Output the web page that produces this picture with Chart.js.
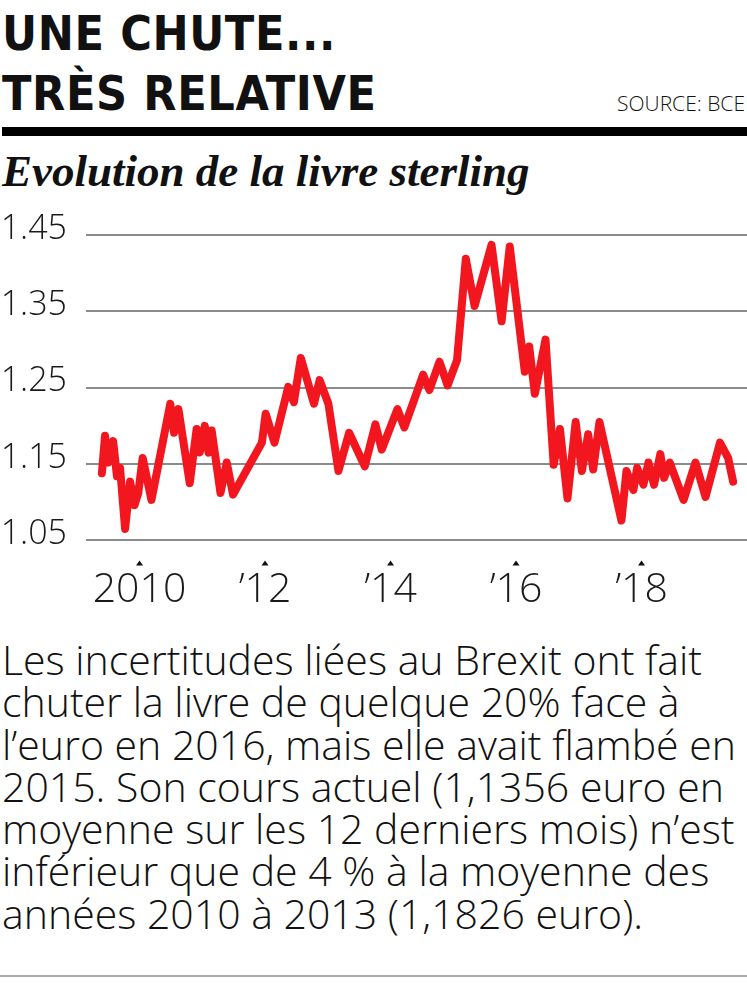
<!DOCTYPE html>
<html lang="fr">
<head>
<meta charset="utf-8">
<title>Une chute... très relative</title>
<script src="https://cdn.jsdelivr.net/npm/chart.js@4.4.1/dist/chart.umd.min.js"></script>
<style>
  body { margin: 0; background: #fff; }
  #page { position: relative; width: 747px; height: 1000px; overflow: hidden; color: #111; }
  #headline { position: absolute; left: 2px; top: 3px; font-family: 'DejaVu Sans', sans-serif; font-stretch: condensed; font-weight: bold; font-size: 48px; letter-spacing: 0.6px; line-height: 60px; white-space: nowrap; }
  #source { position: absolute; right: 2px; top: 89px; font-family: 'Open Sans', sans-serif; font-weight: 300; font-size: 21px; white-space: nowrap; }
  #rule { position: absolute; left: 2px; right: 0; top: 127px; height: 9px; background: #000; }
  #subtitle { position: absolute; left: 2px; top: 145px; font-family: 'Liberation Serif', serif; font-style: italic; font-weight: bold; font-size: 45px; white-space: nowrap; }
  #chartBox { position: absolute; left: 0; top: 210px; width: 747px; height: 407px; }
  #note { position: absolute; left: 2px; top: 638px; margin: 0; font-family: 'Open Sans', sans-serif; font-weight: 300; font-size: 41px; line-height: 42.3px; white-space: nowrap; }
  #rule2 { position: absolute; left: 0; right: 0; top: 975px; height: 2px; background: #aaa; }
</style>
</head>
<body>
<div id="page">
  <div id="headline">UNE CHUTE...<br>TRÈS RELATIVE</div>
  <div id="source">SOURCE: BCE</div>
  <div id="rule"></div>
  <div id="subtitle">Evolution de la livre sterling</div>
  <div id="chartBox"><canvas id="chart"></canvas></div>
  <p id="note">Les incertitudes liées au Brexit ont fait<br>chuter la livre de quelque 20% face à<br>l’euro en 2016, mais elle avait flambé en<br>2015. Son cours actuel (1,1356 euro en<br>moyenne sur les 12 derniers mois) n’est<br>inférieur que de 4 % à la moyenne des<br>années 2010 à 2013 (1,1826 euro).</p>
  <div id="rule2"></div>
</div>

<script>
// dates as decimal years
const dates = [
  2009.40, 2009.45, 2009.50, 2009.58, 2009.64, 2009.69, 2009.77, 2009.85, 2009.92, 2009.98,
  2010.05, 2010.19, 2010.49, 2010.55, 2010.62, 2010.80, 2010.91, 2010.96, 2011.04, 2011.10,
  2011.15, 2011.29, 2011.39, 2011.49, 2011.95, 2012.01, 2012.15, 2012.37, 2012.46, 2012.57,
  2012.78, 2012.87, 2013.01, 2013.17, 2013.34, 2013.59, 2013.76, 2013.86, 2014.11, 2014.22,
  2014.52, 2014.62, 2014.78, 2014.91, 2015.06, 2015.20, 2015.34, 2015.61, 2015.77, 2015.90,
  2016.14, 2016.21, 2016.30, 2016.47, 2016.60, 2016.70, 2016.82, 2016.95, 2017.05, 2017.15,
  2017.23, 2017.33, 2017.68, 2017.76, 2017.87, 2017.93, 2018.03, 2018.11, 2018.20, 2018.30,
  2018.36, 2018.45, 2018.67, 2018.86, 2019.02, 2019.25, 2019.38, 2019.46
];

// euro per pound
const rates = [
  1.138, 1.187, 1.152, 1.180, 1.134, 1.145, 1.065, 1.127, 1.096, 1.112,
  1.158, 1.103, 1.229, 1.191, 1.222, 1.125, 1.196, 1.165, 1.200, 1.165,
  1.194, 1.112, 1.152, 1.110, 1.178, 1.216, 1.178, 1.251, 1.231, 1.289,
  1.229, 1.260, 1.229, 1.141, 1.191, 1.147, 1.202, 1.169, 1.222, 1.198,
  1.267, 1.247, 1.284, 1.253, 1.286, 1.419, 1.357, 1.437, 1.337, 1.435,
  1.271, 1.304, 1.242, 1.313, 1.149, 1.196, 1.105, 1.205, 1.141, 1.189,
  1.143, 1.205, 1.076, 1.141, 1.116, 1.145, 1.123, 1.152, 1.123, 1.163,
  1.132, 1.152, 1.103, 1.152, 1.107, 1.178, 1.158, 1.127
];

const xTickYears = [2010, 2012, 2014, 2016, 2018];
const xTickLabels = ['2010', '’12', '’14', '’16', '’18'];
const yTicks = [1.05, 1.15, 1.25, 1.35, 1.45];

const lightFont = "'Open Sans', 'DejaVu Sans', sans-serif";

// small triangles above the year labels
const tickMarks = {
    id: 'tickMarks',
    afterDraw(chart) {
        const ctx = chart.ctx;
        const x = chart.scales.x;
        const top = chart.chartArea.bottom + 20;
        ctx.save();
        ctx.fillStyle = '#111';
        xTickYears.forEach(v => {
            const px = x.getPixelForValue(v);
            ctx.beginPath();
            ctx.moveTo(px, top);
            ctx.lineTo(px + 3.5, top + 5);
            ctx.lineTo(px - 3.5, top + 5);
            ctx.closePath();
            ctx.fill();
        });
        ctx.restore();
    }
};

new Chart(document.getElementById('chart'), {
    type: 'line',
    data: {
        datasets: [{
            data: dates.map((d, i) => ({ x: d, y: rates[i] })),
            borderColor: '#f2161f',
            borderWidth: 8,
            borderJoinStyle: 'round',
            borderCapStyle: 'round',
            pointRadius: 0,
            tension: 0
        }]
    },
    options: {
        responsive: true,
        maintainAspectRatio: false,
        animation: false,
        devicePixelRatio: 1,
        layout: { padding: { top: 25, right: 0, bottom: 0, left: 0 } },
        plugins: { legend: { display: false }, tooltip: { enabled: false } },
        scales: {
            x: {
                type: 'linear',
                min: 2009.147,
                max: 2019.681,
                afterBuildTicks: s => { s.ticks = xTickYears.map(v => ({ value: v })); },
                afterFit: s => { s.height = 76.6; s.paddingLeft = 0; s.paddingRight = 0; },
                grid: { display: false },
                border: { display: false },
                ticks: {
                    autoSkip: false,
                    maxRotation: 0,
                    padding: 17,
                    color: '#1a1a1a',
                    font: { family: lightFont, weight: 300, size: 41 },
                    callback: (v, i) => xTickLabels[i]
                }
            },
            y: {
                min: 1.05,
                max: 1.45,
                afterBuildTicks: s => { s.ticks = yTicks.map(v => ({ value: v })); },
                afterFit: s => { s.width = 86; s.paddingTop = 0; s.paddingBottom = 0; },
                grid: { color: '#8c8c8c', lineWidth: 2, drawTicks: false },
                border: { display: false },
                ticks: {
                    padding: 19,
                    labelOffset: -6,
                    color: '#1a1a1a',
                    font: { family: lightFont, weight: 300, size: 34 },
                    callback: v => v.toFixed(2)
                }
            }
        }
    },
    plugins: [tickMarks]
});
</script>
</body>
</html>
